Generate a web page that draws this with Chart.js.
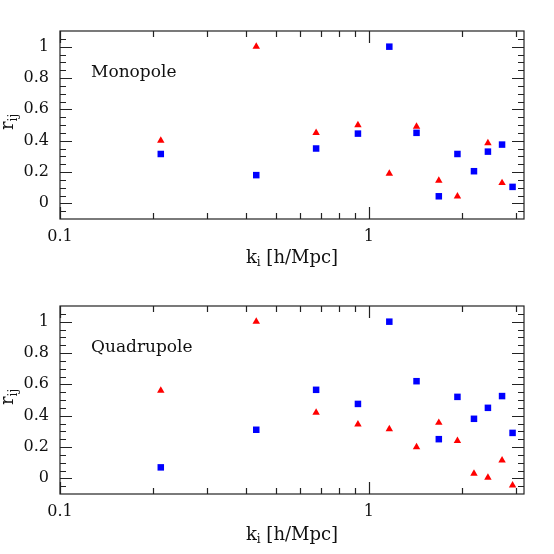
<!DOCTYPE html>
<html>
<head>
<meta charset="utf-8">
<script src="https://cdn.jsdelivr.net/npm/chart.js@4.4.1/dist/chart.umd.min.js"></script>
<style>
  html, body { margin: 0; padding: 0; background: #fff; }
  canvas { display: block; }
</style>
</head>
<body>
<canvas id="mono" width="554" height="277"></canvas>
<canvas id="quad" width="554" height="277"></canvas>
<script>
// k bins [h/Mpc]
const kValues = [0.212, 0.432, 0.675, 0.922, 1.165, 1.427, 1.685, 1.936, 2.19, 2.43, 2.70, 2.92];

// correlation coefficients, red triangles / blue squares
const monoRed  = [0.40, 1.00, 0.45, 0.50, 0.19, 0.49, 0.145, 0.045, null, 0.385, 0.13, null];
const monoBlue = [0.315, 0.18, 0.35, 0.445, 1.00, 0.45, 0.045, 0.315, 0.205, 0.33, 0.375, 0.105];
const quadRed  = [0.56, 1.00, 0.42, 0.345, 0.315, 0.20, 0.355, 0.24, 0.03, 0.005, 0.115, -0.045];
const quadBlue = [0.07, 0.31, 0.565, 0.475, 1.00, 0.62, 0.25, 0.52, 0.38, 0.45, 0.525, 0.29];

// axis ticks
const xMajorTicks = [0.1, 1];
const xMinorTicks = [0.2, 0.3, 0.4, 0.5, 0.6, 0.7, 0.8, 0.9, 2, 3];
const yMajorTicks = [0, 0.2, 0.4, 0.6, 0.8, 1];
const yMinorTicks = [-0.05, 0.05, 0.1, 0.15, 0.25, 0.3, 0.35, 0.45, 0.5, 0.55,
                     0.65, 0.7, 0.75, 0.85, 0.9, 0.95, 1.05];

const FONT = '"DejaVu Serif", "Liberation Serif", serif';
Chart.defaults.font.family = FONT;
Chart.defaults.color = '#111';

const toPoints = (ys) => kValues.map((k, i) => ({ x: k, y: ys[i] }));

// box, inward ticks, panel label and axis titles with subscripts
const framePlugin = {
  id: 'frame',
  beforeDatasetsDraw(chart, args, opts) {
    const { ctx, chartArea: a, scales: { x, y } } = chart;
    ctx.save();
    ctx.strokeStyle = '#222';
    ctx.lineWidth = 1.2;
    ctx.strokeRect(a.left, a.top, a.right - a.left, a.bottom - a.top);
    ctx.beginPath();
    const tickX = (v, len) => {
      const px = Math.round(x.getPixelForValue(v)) + 0.5;
      ctx.moveTo(px, a.bottom); ctx.lineTo(px, a.bottom - len);
      ctx.moveTo(px, a.top); ctx.lineTo(px, a.top + len);
    };
    const tickY = (v, len) => {
      const py = Math.round(y.getPixelForValue(v)) + 0.5;
      ctx.moveTo(a.left, py); ctx.lineTo(a.left + len, py);
      ctx.moveTo(a.right, py); ctx.lineTo(a.right - len, py);
    };
    xMajorTicks.forEach(v => tickX(v, 12));
    xMinorTicks.forEach(v => tickX(v, 6));
    yMajorTicks.forEach(v => tickY(v, 12));
    yMinorTicks.forEach(v => tickY(v, 6));
    ctx.stroke();

    ctx.fillStyle = '#111';
    ctx.textBaseline = 'middle';
    ctx.textAlign = 'left';
    ctx.font = '17px ' + FONT;
    ctx.fillText(opts.label, a.left + 31, a.top + 42);

    // x title: k_i [h/Mpc]
    ctx.textBaseline = 'alphabetic';
    const big = '18px ' + FONT, small = '12px ' + FONT;
    ctx.font = big;
    const wk = ctx.measureText('k').width;
    const wrest = ctx.measureText(' [h/Mpc]').width;
    ctx.font = small;
    const wi = ctx.measureText('i').width;
    let tx = (a.left + a.right) / 2 - (wk + wi + wrest) / 2;
    const ty = a.bottom + opts.titleGap;
    ctx.font = big;
    ctx.fillText('k', tx, ty);
    ctx.font = small;
    ctx.fillText('i', tx + wk, ty + 3);
    ctx.font = big;
    ctx.fillText(' [h/Mpc]', tx + wk + wi, ty);

    // y title: r_ij
    ctx.translate(a.left - 47, (a.top + a.bottom) / 2 + 5);
    ctx.rotate(-Math.PI / 2);
    ctx.font = big;
    ctx.fillText('r', 0, 0);
    const wr = ctx.measureText('r').width;
    ctx.font = small;
    ctx.fillText('ij', wr, 4);
    ctx.restore();
  }
};

function makeChart(id, label, red, blue, padTop, xHeight, titleGap) {
  return new Chart(document.getElementById(id), {
    type: 'scatter',
    data: {
      datasets: [
        {
          label: 'red',
          data: toPoints(red),
          pointStyle: 'triangle',
          pointRadius: 4.3,
          backgroundColor: '#ff0000',
          borderColor: '#ff0000',
          borderWidth: 0
        },
        {
          label: 'blue',
          data: toPoints(blue),
          pointStyle: 'rect',
          pointRadius: 4.6,
          backgroundColor: '#0000ff',
          borderColor: '#0000ff',
          borderWidth: 0
        }
      ]
    },
    options: {
      responsive: false,
      animation: false,
      events: [],
      layout: { padding: { top: padTop, right: 30, left: 0, bottom: 0 } },
      plugins: {
        legend: { display: false },
        tooltip: { enabled: false },
        frame: { label: label, titleGap: titleGap }
      },
      scales: {
        x: {
          type: 'logarithmic',
          min: 0.1,
          max: 3.18,
          grid: { display: false, drawTicks: false },
          border: { display: false },
          afterBuildTicks: (s) => { s.ticks = xMajorTicks.map(v => ({ value: v })); },
          afterFit: (s) => { s.height = xHeight; },
          ticks: {
            font: { size: 16 },
            padding: 8,
            maxRotation: 0,
            autoSkip: false,
            callback: (v) => String(v)
          }
        },
        y: {
          min: -0.1,
          max: 1.1,
          grid: { display: false, drawTicks: false },
          border: { display: false },
          afterBuildTicks: (s) => { s.ticks = yMajorTicks.map(v => ({ value: v })); },
          afterFit: (s) => { s.width = 60; },
          ticks: {
            font: { size: 16 },
            padding: 11,
            callback: (v) => String(Number(v.toFixed(1)))
          }
        }
      }
    },
    plugins: [framePlugin]
  });
}

makeChart('mono', 'Monopole', monoRed, monoBlue, 31, 58, 44);
makeChart('quad', 'Quadrupole', quadRed, quadBlue, 29, 60, 46);
</script>
</body>
</html>
